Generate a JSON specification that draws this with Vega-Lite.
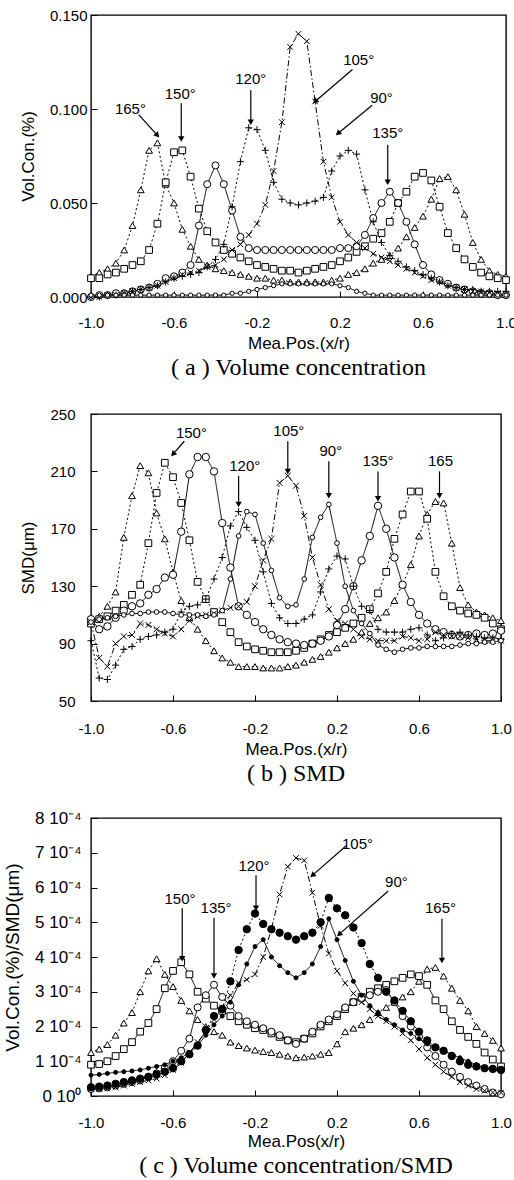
{
"$schema":"https://vega.github.io/schema/vega-lite/v6.json",
"background":"white",
"padding":{"left":2,"top":7,"right":4,"bottom":2},
"bounds":"flush",
"spacing":117,
"resolve":{"scale":{"shape":"independent","fill":"independent","size":"independent","strokeDash":"independent","angle":"independent"}},
"config":{
"view":{"stroke":"black","strokeWidth":1.4},
"axis":{"grid":false,"domain":false,"ticks":true,"tickColor":"black","tickSize":-6,"tickWidth":1,"labelFont":"Liberation Sans","titleFont":"Liberation Sans","labelFontSize":15,"titleFontSize":17,"titleFontWeight":"normal","labelColor":"black","titleColor":"black","labelFlush":false,"labelOverlap":false},
"title":{"font":"Liberation Serif","fontSize":24,"fontWeight":"normal","color":"black","orient":"bottom","anchor":"middle","frame":"group","offset":5}
},
"datasets":{
"a":[
{"s":"165","x":-1,"y":0.011},{"s":"165","x":-0.96,"y":0.013},{"s":"165","x":-0.92,"y":0.015},{"s":"165","x":-0.88,"y":0.018},{"s":"165","x":-0.84,"y":0.025},{"s":"165","x":-0.8,"y":0.038},{"s":"165","x":-0.76,"y":0.057},{"s":"165","x":-0.72,"y":0.078},{"s":"165","x":-0.68,"y":0.082},{"s":"165","x":-0.64,"y":0.06},{"s":"165","x":-0.6,"y":0.05},{"s":"165","x":-0.56,"y":0.036},{"s":"165","x":-0.52,"y":0.027},{"s":"165","x":-0.48,"y":0.02},{"s":"165","x":-0.44,"y":0.017},{"s":"165","x":-0.4,"y":0.015},{"s":"165","x":-0.36,"y":0.014},{"s":"165","x":-0.32,"y":0.013},{"s":"165","x":-0.28,"y":0.012},{"s":"165","x":-0.24,"y":0.011},{"s":"165","x":-0.2,"y":0.01},{"s":"165","x":-0.16,"y":0.01},{"s":"165","x":-0.12,"y":0.009},{"s":"165","x":-0.08,"y":0.009},{"s":"165","x":-0.04,"y":0.008},{"s":"165","x":0,"y":0.008},{"s":"165","x":0.04,"y":0.008},{"s":"165","x":0.08,"y":0.008},{"s":"165","x":0.12,"y":0.008},{"s":"165","x":0.16,"y":0.009},{"s":"165","x":0.2,"y":0.01},{"s":"165","x":0.24,"y":0.012},{"s":"165","x":0.28,"y":0.013},{"s":"165","x":0.32,"y":0.015},{"s":"165","x":0.36,"y":0.018},{"s":"165","x":0.4,"y":0.02},{"s":"165","x":0.44,"y":0.022},{"s":"165","x":0.48,"y":0.026},{"s":"165","x":0.52,"y":0.032},{"s":"165","x":0.56,"y":0.037},{"s":"165","x":0.6,"y":0.043},{"s":"165","x":0.64,"y":0.052},{"s":"165","x":0.68,"y":0.063},{"s":"165","x":0.72,"y":0.064},{"s":"165","x":0.76,"y":0.057},{"s":"165","x":0.8,"y":0.044},{"s":"165","x":0.84,"y":0.029},{"s":"165","x":0.88,"y":0.02},{"s":"165","x":0.92,"y":0.014},{"s":"165","x":0.96,"y":0.012},{"s":"165","x":1,"y":0.011},
{"s":"150","x":-1,"y":0.01},{"s":"150","x":-0.96,"y":0.01},{"s":"150","x":-0.92,"y":0.012},{"s":"150","x":-0.88,"y":0.013},{"s":"150","x":-0.84,"y":0.015},{"s":"150","x":-0.8,"y":0.017},{"s":"150","x":-0.76,"y":0.019},{"s":"150","x":-0.72,"y":0.025},{"s":"150","x":-0.68,"y":0.039},{"s":"150","x":-0.64,"y":0.061},{"s":"150","x":-0.6,"y":0.077},{"s":"150","x":-0.56,"y":0.078},{"s":"150","x":-0.52,"y":0.064},{"s":"150","x":-0.48,"y":0.047},{"s":"150","x":-0.44,"y":0.035},{"s":"150","x":-0.4,"y":0.029},{"s":"150","x":-0.36,"y":0.025},{"s":"150","x":-0.32,"y":0.023},{"s":"150","x":-0.28,"y":0.021},{"s":"150","x":-0.24,"y":0.019},{"s":"150","x":-0.2,"y":0.017},{"s":"150","x":-0.16,"y":0.016},{"s":"150","x":-0.12,"y":0.015},{"s":"150","x":-0.08,"y":0.014},{"s":"150","x":-0.04,"y":0.014},{"s":"150","x":0,"y":0.013},{"s":"150","x":0.04,"y":0.014},{"s":"150","x":0.08,"y":0.015},{"s":"150","x":0.12,"y":0.016},{"s":"150","x":0.16,"y":0.017},{"s":"150","x":0.2,"y":0.019},{"s":"150","x":0.24,"y":0.021},{"s":"150","x":0.28,"y":0.024},{"s":"150","x":0.32,"y":0.027},{"s":"150","x":0.36,"y":0.031},{"s":"150","x":0.4,"y":0.034},{"s":"150","x":0.44,"y":0.04},{"s":"150","x":0.48,"y":0.05},{"s":"150","x":0.52,"y":0.056},{"s":"150","x":0.56,"y":0.064},{"s":"150","x":0.6,"y":0.066},{"s":"150","x":0.64,"y":0.062},{"s":"150","x":0.68,"y":0.048},{"s":"150","x":0.72,"y":0.034},{"s":"150","x":0.76,"y":0.026},{"s":"150","x":0.8,"y":0.02},{"s":"150","x":0.84,"y":0.016},{"s":"150","x":0.88,"y":0.013},{"s":"150","x":0.92,"y":0.011},{"s":"150","x":0.96,"y":0.01},{"s":"150","x":1,"y":0.009},
{"s":"135","x":-1,"y":0},{"s":"135","x":-0.96,"y":0.001},{"s":"135","x":-0.92,"y":0.001},{"s":"135","x":-0.88,"y":0.002},{"s":"135","x":-0.84,"y":0.002},{"s":"135","x":-0.8,"y":0.003},{"s":"135","x":-0.76,"y":0.004},{"s":"135","x":-0.72,"y":0.005},{"s":"135","x":-0.68,"y":0.007},{"s":"135","x":-0.64,"y":0.01},{"s":"135","x":-0.6,"y":0.011},{"s":"135","x":-0.56,"y":0.013},{"s":"135","x":-0.52,"y":0.017},{"s":"135","x":-0.48,"y":0.038},{"s":"135","x":-0.44,"y":0.06},{"s":"135","x":-0.4,"y":0.07},{"s":"135","x":-0.36,"y":0.06},{"s":"135","x":-0.32,"y":0.046},{"s":"135","x":-0.28,"y":0.032},{"s":"135","x":-0.24,"y":0.026},{"s":"135","x":-0.2,"y":0.025},{"s":"135","x":-0.16,"y":0.025},{"s":"135","x":-0.12,"y":0.025},{"s":"135","x":-0.08,"y":0.025},{"s":"135","x":-0.04,"y":0.025},{"s":"135","x":0,"y":0.025},{"s":"135","x":0.04,"y":0.025},{"s":"135","x":0.08,"y":0.025},{"s":"135","x":0.12,"y":0.025},{"s":"135","x":0.16,"y":0.025},{"s":"135","x":0.2,"y":0.026},{"s":"135","x":0.24,"y":0.026},{"s":"135","x":0.28,"y":0.027},{"s":"135","x":0.32,"y":0.033},{"s":"135","x":0.36,"y":0.042},{"s":"135","x":0.4,"y":0.05},{"s":"135","x":0.44,"y":0.056},{"s":"135","x":0.48,"y":0.05},{"s":"135","x":0.52,"y":0.04},{"s":"135","x":0.56,"y":0.028},{"s":"135","x":0.6,"y":0.017},{"s":"135","x":0.64,"y":0.012},{"s":"135","x":0.68,"y":0.009},{"s":"135","x":0.72,"y":0.007},{"s":"135","x":0.76,"y":0.005},{"s":"135","x":0.8,"y":0.004},{"s":"135","x":0.84,"y":0.003},{"s":"135","x":0.88,"y":0.002},{"s":"135","x":0.92,"y":0.002},{"s":"135","x":0.96,"y":0.001},{"s":"135","x":1,"y":0.001},
{"s":"120","x":-1,"y":0},{"s":"120","x":-0.96,"y":0},{"s":"120","x":-0.92,"y":0.001},{"s":"120","x":-0.88,"y":0.001},{"s":"120","x":-0.84,"y":0.002},{"s":"120","x":-0.8,"y":0.003},{"s":"120","x":-0.76,"y":0.004},{"s":"120","x":-0.72,"y":0.005},{"s":"120","x":-0.68,"y":0.006},{"s":"120","x":-0.64,"y":0.008},{"s":"120","x":-0.6,"y":0.01},{"s":"120","x":-0.56,"y":0.011},{"s":"120","x":-0.52,"y":0.012},{"s":"120","x":-0.48,"y":0.013},{"s":"120","x":-0.44,"y":0.016},{"s":"120","x":-0.4,"y":0.02},{"s":"120","x":-0.36,"y":0.028},{"s":"120","x":-0.32,"y":0.048},{"s":"120","x":-0.28,"y":0.072},{"s":"120","x":-0.24,"y":0.09},{"s":"120","x":-0.2,"y":0.089},{"s":"120","x":-0.16,"y":0.078},{"s":"120","x":-0.12,"y":0.061},{"s":"120","x":-0.08,"y":0.052},{"s":"120","x":-0.04,"y":0.05},{"s":"120","x":0,"y":0.049},{"s":"120","x":0.04,"y":0.05},{"s":"120","x":0.08,"y":0.051},{"s":"120","x":0.12,"y":0.053},{"s":"120","x":0.16,"y":0.067},{"s":"120","x":0.2,"y":0.075},{"s":"120","x":0.24,"y":0.078},{"s":"120","x":0.28,"y":0.076},{"s":"120","x":0.32,"y":0.057},{"s":"120","x":0.36,"y":0.04},{"s":"120","x":0.4,"y":0.029},{"s":"120","x":0.44,"y":0.022},{"s":"120","x":0.48,"y":0.019},{"s":"120","x":0.52,"y":0.016},{"s":"120","x":0.56,"y":0.014},{"s":"120","x":0.6,"y":0.012},{"s":"120","x":0.64,"y":0.01},{"s":"120","x":0.68,"y":0.008},{"s":"120","x":0.72,"y":0.006},{"s":"120","x":0.76,"y":0.005},{"s":"120","x":0.8,"y":0.004},{"s":"120","x":0.84,"y":0.004},{"s":"120","x":0.88,"y":0.003},{"s":"120","x":0.92,"y":0.003},{"s":"120","x":0.96,"y":0.003},{"s":"120","x":1,"y":0.003},
{"s":"105","x":-1,"y":0},{"s":"105","x":-0.96,"y":0},{"s":"105","x":-0.92,"y":0.001},{"s":"105","x":-0.88,"y":0.001},{"s":"105","x":-0.84,"y":0.002},{"s":"105","x":-0.8,"y":0.003},{"s":"105","x":-0.76,"y":0.004},{"s":"105","x":-0.72,"y":0.005},{"s":"105","x":-0.68,"y":0.006},{"s":"105","x":-0.64,"y":0.008},{"s":"105","x":-0.6,"y":0.01},{"s":"105","x":-0.56,"y":0.012},{"s":"105","x":-0.52,"y":0.013},{"s":"105","x":-0.48,"y":0.014},{"s":"105","x":-0.44,"y":0.016},{"s":"105","x":-0.4,"y":0.017},{"s":"105","x":-0.36,"y":0.02},{"s":"105","x":-0.32,"y":0.025},{"s":"105","x":-0.28,"y":0.028},{"s":"105","x":-0.24,"y":0.033},{"s":"105","x":-0.2,"y":0.039},{"s":"105","x":-0.16,"y":0.049},{"s":"105","x":-0.12,"y":0.067},{"s":"105","x":-0.08,"y":0.093},{"s":"105","x":-0.04,"y":0.133},{"s":"105","x":0,"y":0.14},{"s":"105","x":0.04,"y":0.136},{"s":"105","x":0.08,"y":0.104},{"s":"105","x":0.12,"y":0.072},{"s":"105","x":0.16,"y":0.053},{"s":"105","x":0.2,"y":0.04},{"s":"105","x":0.24,"y":0.033},{"s":"105","x":0.28,"y":0.029},{"s":"105","x":0.32,"y":0.026},{"s":"105","x":0.36,"y":0.023},{"s":"105","x":0.4,"y":0.021},{"s":"105","x":0.44,"y":0.019},{"s":"105","x":0.48,"y":0.017},{"s":"105","x":0.52,"y":0.015},{"s":"105","x":0.56,"y":0.013},{"s":"105","x":0.6,"y":0.011},{"s":"105","x":0.64,"y":0.009},{"s":"105","x":0.68,"y":0.008},{"s":"105","x":0.72,"y":0.006},{"s":"105","x":0.76,"y":0.005},{"s":"105","x":0.8,"y":0.004},{"s":"105","x":0.84,"y":0.003},{"s":"105","x":0.88,"y":0.003},{"s":"105","x":0.92,"y":0.002},{"s":"105","x":0.96,"y":0.002},{"s":"105","x":1,"y":0.001},
{"s":"90","x":-1,"y":0.001},{"s":"90","x":-0.96,"y":0.001},{"s":"90","x":-0.92,"y":0.001},{"s":"90","x":-0.88,"y":0.001},{"s":"90","x":-0.84,"y":0.001},{"s":"90","x":-0.8,"y":0.001},{"s":"90","x":-0.76,"y":0.001},{"s":"90","x":-0.72,"y":0.001},{"s":"90","x":-0.68,"y":0.001},{"s":"90","x":-0.64,"y":0.001},{"s":"90","x":-0.6,"y":0.001},{"s":"90","x":-0.56,"y":0.001},{"s":"90","x":-0.52,"y":0.001},{"s":"90","x":-0.48,"y":0.001},{"s":"90","x":-0.44,"y":0.001},{"s":"90","x":-0.4,"y":0.001},{"s":"90","x":-0.36,"y":0.001},{"s":"90","x":-0.32,"y":0.002},{"s":"90","x":-0.28,"y":0.002},{"s":"90","x":-0.24,"y":0.003},{"s":"90","x":-0.2,"y":0.004},{"s":"90","x":-0.16,"y":0.005},{"s":"90","x":-0.12,"y":0.006},{"s":"90","x":-0.08,"y":0.007},{"s":"90","x":-0.04,"y":0.007},{"s":"90","x":0,"y":0.007},{"s":"90","x":0.04,"y":0.007},{"s":"90","x":0.08,"y":0.007},{"s":"90","x":0.12,"y":0.007},{"s":"90","x":0.16,"y":0.007},{"s":"90","x":0.2,"y":0.006},{"s":"90","x":0.24,"y":0.005},{"s":"90","x":0.28,"y":0.003},{"s":"90","x":0.32,"y":0.002},{"s":"90","x":0.36,"y":0.001},{"s":"90","x":0.4,"y":0.001},{"s":"90","x":0.44,"y":0.001},{"s":"90","x":0.48,"y":0.001},{"s":"90","x":0.52,"y":0.001},{"s":"90","x":0.56,"y":0.001},{"s":"90","x":0.6,"y":0.001},{"s":"90","x":0.64,"y":0.001},{"s":"90","x":0.68,"y":0.001},{"s":"90","x":0.72,"y":0.001},{"s":"90","x":0.76,"y":0.001},{"s":"90","x":0.8,"y":0.001},{"s":"90","x":0.84,"y":0.001},{"s":"90","x":0.88,"y":0.001},{"s":"90","x":0.92,"y":0.001},{"s":"90","x":0.96,"y":0.001},{"s":"90","x":1,"y":0.001}
],
"b":[
{"s":"165","x":-1,"y":105},{"s":"165","x":-0.96,"y":109},{"s":"165","x":-0.92,"y":116},{"s":"165","x":-0.88,"y":126},{"s":"165","x":-0.84,"y":164},{"s":"165","x":-0.8,"y":193},{"s":"165","x":-0.76,"y":214},{"s":"165","x":-0.72,"y":209},{"s":"165","x":-0.68,"y":181},{"s":"165","x":-0.64,"y":163},{"s":"165","x":-0.6,"y":140},{"s":"165","x":-0.56,"y":120},{"s":"165","x":-0.52,"y":108},{"s":"165","x":-0.48,"y":100},{"s":"165","x":-0.44,"y":92},{"s":"165","x":-0.4,"y":85},{"s":"165","x":-0.36,"y":80},{"s":"165","x":-0.32,"y":77},{"s":"165","x":-0.28,"y":74},{"s":"165","x":-0.24,"y":74},{"s":"165","x":-0.2,"y":74},{"s":"165","x":-0.16,"y":73},{"s":"165","x":-0.12,"y":73},{"s":"165","x":-0.08,"y":73},{"s":"165","x":-0.04,"y":74},{"s":"165","x":0,"y":75},{"s":"165","x":0.04,"y":77},{"s":"165","x":0.08,"y":79},{"s":"165","x":0.12,"y":81},{"s":"165","x":0.16,"y":84},{"s":"165","x":0.2,"y":87},{"s":"165","x":0.24,"y":90},{"s":"165","x":0.28,"y":93},{"s":"165","x":0.32,"y":98},{"s":"165","x":0.36,"y":104},{"s":"165","x":0.4,"y":108},{"s":"165","x":0.44,"y":112},{"s":"165","x":0.48,"y":120},{"s":"165","x":0.52,"y":131},{"s":"165","x":0.56,"y":145},{"s":"165","x":0.6,"y":165},{"s":"165","x":0.64,"y":180},{"s":"165","x":0.68,"y":189},{"s":"165","x":0.72,"y":188},{"s":"165","x":0.76,"y":160},{"s":"165","x":0.8,"y":129},{"s":"165","x":0.84,"y":117},{"s":"165","x":0.88,"y":112},{"s":"165","x":0.92,"y":110},{"s":"165","x":0.96,"y":108},{"s":"165","x":1,"y":106},
{"s":"150","x":-1,"y":104},{"s":"150","x":-0.96,"y":107},{"s":"150","x":-0.92,"y":109},{"s":"150","x":-0.88,"y":113},{"s":"150","x":-0.84,"y":117},{"s":"150","x":-0.8,"y":124},{"s":"150","x":-0.76,"y":131},{"s":"150","x":-0.72,"y":160},{"s":"150","x":-0.68,"y":195},{"s":"150","x":-0.64,"y":216},{"s":"150","x":-0.6,"y":206},{"s":"150","x":-0.56,"y":188},{"s":"150","x":-0.52,"y":162},{"s":"150","x":-0.48,"y":133},{"s":"150","x":-0.44,"y":121},{"s":"150","x":-0.4,"y":112},{"s":"150","x":-0.36,"y":105},{"s":"150","x":-0.32,"y":98},{"s":"150","x":-0.28,"y":91},{"s":"150","x":-0.24,"y":88},{"s":"150","x":-0.2,"y":86},{"s":"150","x":-0.16,"y":85},{"s":"150","x":-0.12,"y":84},{"s":"150","x":-0.08,"y":84},{"s":"150","x":-0.04,"y":84},{"s":"150","x":0,"y":85},{"s":"150","x":0.04,"y":87},{"s":"150","x":0.08,"y":90},{"s":"150","x":0.12,"y":93},{"s":"150","x":0.16,"y":96},{"s":"150","x":0.2,"y":98},{"s":"150","x":0.24,"y":101},{"s":"150","x":0.28,"y":104},{"s":"150","x":0.32,"y":108},{"s":"150","x":0.36,"y":114},{"s":"150","x":0.4,"y":125},{"s":"150","x":0.44,"y":140},{"s":"150","x":0.48,"y":163},{"s":"150","x":0.52,"y":180},{"s":"150","x":0.56,"y":196},{"s":"150","x":0.6,"y":196},{"s":"150","x":0.64,"y":177},{"s":"150","x":0.68,"y":140},{"s":"150","x":0.72,"y":123},{"s":"150","x":0.76,"y":116},{"s":"150","x":0.8,"y":113},{"s":"150","x":0.84,"y":111},{"s":"150","x":0.88,"y":110},{"s":"150","x":0.92,"y":108},{"s":"150","x":0.96,"y":104},{"s":"150","x":1,"y":100},
{"s":"135","x":-1,"y":107},{"s":"135","x":-0.96,"y":100},{"s":"135","x":-0.92,"y":102},{"s":"135","x":-0.88,"y":108},{"s":"135","x":-0.84,"y":113},{"s":"135","x":-0.8,"y":116},{"s":"135","x":-0.76,"y":118},{"s":"135","x":-0.72,"y":124},{"s":"135","x":-0.68,"y":128},{"s":"135","x":-0.64,"y":136},{"s":"135","x":-0.6,"y":138},{"s":"135","x":-0.56,"y":168},{"s":"135","x":-0.52,"y":208},{"s":"135","x":-0.48,"y":220},{"s":"135","x":-0.44,"y":220},{"s":"135","x":-0.4,"y":210},{"s":"135","x":-0.36,"y":174},{"s":"135","x":-0.32,"y":143},{"s":"135","x":-0.28,"y":116},{"s":"135","x":-0.24,"y":110},{"s":"135","x":-0.2,"y":105},{"s":"135","x":-0.16,"y":100},{"s":"135","x":-0.12,"y":96},{"s":"135","x":-0.08,"y":93},{"s":"135","x":-0.04,"y":91},{"s":"135","x":0,"y":90},{"s":"135","x":0.04,"y":89},{"s":"135","x":0.08,"y":90},{"s":"135","x":0.12,"y":92},{"s":"135","x":0.16,"y":95},{"s":"135","x":0.2,"y":103},{"s":"135","x":0.24,"y":114},{"s":"135","x":0.28,"y":130},{"s":"135","x":0.32,"y":148},{"s":"135","x":0.36,"y":165},{"s":"135","x":0.4,"y":186},{"s":"135","x":0.44,"y":170},{"s":"135","x":0.48,"y":150},{"s":"135","x":0.52,"y":131},{"s":"135","x":0.56,"y":119},{"s":"135","x":0.6,"y":110},{"s":"135","x":0.64,"y":104},{"s":"135","x":0.68,"y":100},{"s":"135","x":0.72,"y":98},{"s":"135","x":0.76,"y":96},{"s":"135","x":0.8,"y":95},{"s":"135","x":0.84,"y":96},{"s":"135","x":0.88,"y":97},{"s":"135","x":0.92,"y":96},{"s":"135","x":0.96,"y":97},{"s":"135","x":1,"y":99},
{"s":"120","x":-1,"y":92},{"s":"120","x":-0.96,"y":66},{"s":"120","x":-0.92,"y":65},{"s":"120","x":-0.88,"y":75},{"s":"120","x":-0.84,"y":86},{"s":"120","x":-0.8,"y":88},{"s":"120","x":-0.76,"y":93},{"s":"120","x":-0.72,"y":95},{"s":"120","x":-0.68,"y":96},{"s":"120","x":-0.64,"y":98},{"s":"120","x":-0.6,"y":100},{"s":"120","x":-0.56,"y":112},{"s":"120","x":-0.52,"y":116},{"s":"120","x":-0.48,"y":117},{"s":"120","x":-0.44,"y":121},{"s":"120","x":-0.4,"y":135},{"s":"120","x":-0.36,"y":150},{"s":"120","x":-0.32,"y":172},{"s":"120","x":-0.28,"y":182},{"s":"120","x":-0.24,"y":171},{"s":"120","x":-0.2,"y":162},{"s":"120","x":-0.16,"y":140},{"s":"120","x":-0.12,"y":118},{"s":"120","x":-0.08,"y":108},{"s":"120","x":-0.04,"y":104},{"s":"120","x":0,"y":104},{"s":"120","x":0.04,"y":107},{"s":"120","x":0.08,"y":110},{"s":"120","x":0.12,"y":126},{"s":"120","x":0.16,"y":142},{"s":"120","x":0.2,"y":151},{"s":"120","x":0.24,"y":149},{"s":"120","x":0.28,"y":130},{"s":"120","x":0.32,"y":116},{"s":"120","x":0.36,"y":113},{"s":"120","x":0.4,"y":100},{"s":"120","x":0.44,"y":98},{"s":"120","x":0.48,"y":98},{"s":"120","x":0.52,"y":98},{"s":"120","x":0.56,"y":100},{"s":"120","x":0.6,"y":101},{"s":"120","x":0.64,"y":96},{"s":"120","x":0.68,"y":92},{"s":"120","x":0.72,"y":94},{"s":"120","x":0.76,"y":97},{"s":"120","x":0.8,"y":98},{"s":"120","x":0.84,"y":96},{"s":"120","x":0.88,"y":95},{"s":"120","x":0.92,"y":94},{"s":"120","x":0.96,"y":94},{"s":"120","x":1,"y":93},
{"s":"105","x":-1,"y":105},{"s":"105","x":-0.96,"y":80},{"s":"105","x":-0.92,"y":74},{"s":"105","x":-0.88,"y":90},{"s":"105","x":-0.84,"y":95},{"s":"105","x":-0.8,"y":96},{"s":"105","x":-0.76,"y":104},{"s":"105","x":-0.72,"y":103},{"s":"105","x":-0.68,"y":100},{"s":"105","x":-0.64,"y":97},{"s":"105","x":-0.6,"y":95},{"s":"105","x":-0.56,"y":100},{"s":"105","x":-0.52,"y":106},{"s":"105","x":-0.48,"y":109},{"s":"105","x":-0.44,"y":110},{"s":"105","x":-0.4,"y":111},{"s":"105","x":-0.36,"y":113},{"s":"105","x":-0.32,"y":115},{"s":"105","x":-0.28,"y":116},{"s":"105","x":-0.24,"y":119},{"s":"105","x":-0.2,"y":130},{"s":"105","x":-0.16,"y":148},{"s":"105","x":-0.12,"y":163},{"s":"105","x":-0.08,"y":202},{"s":"105","x":-0.04,"y":207},{"s":"105","x":0,"y":200},{"s":"105","x":0.04,"y":179},{"s":"105","x":0.08,"y":150},{"s":"105","x":0.12,"y":131},{"s":"105","x":0.16,"y":114},{"s":"105","x":0.2,"y":106},{"s":"105","x":0.24,"y":104},{"s":"105","x":0.28,"y":100},{"s":"105","x":0.32,"y":95},{"s":"105","x":0.36,"y":93},{"s":"105","x":0.4,"y":92},{"s":"105","x":0.44,"y":92},{"s":"105","x":0.48,"y":92},{"s":"105","x":0.52,"y":95},{"s":"105","x":0.56,"y":94},{"s":"105","x":0.6,"y":92},{"s":"105","x":0.64,"y":93},{"s":"105","x":0.68,"y":98},{"s":"105","x":0.72,"y":96},{"s":"105","x":0.76,"y":95},{"s":"105","x":0.8,"y":95},{"s":"105","x":0.84,"y":94},{"s":"105","x":0.88,"y":93},{"s":"105","x":0.92,"y":92},{"s":"105","x":0.96,"y":92},{"s":"105","x":1,"y":92},
{"s":"90","x":-1,"y":105},{"s":"90","x":-0.96,"y":107},{"s":"90","x":-0.92,"y":108},{"s":"90","x":-0.88,"y":109},{"s":"90","x":-0.84,"y":110},{"s":"90","x":-0.8,"y":111},{"s":"90","x":-0.76,"y":111},{"s":"90","x":-0.72,"y":112},{"s":"90","x":-0.68,"y":112},{"s":"90","x":-0.64,"y":112},{"s":"90","x":-0.6,"y":111},{"s":"90","x":-0.56,"y":110},{"s":"90","x":-0.52,"y":110},{"s":"90","x":-0.48,"y":110},{"s":"90","x":-0.44,"y":109},{"s":"90","x":-0.4,"y":110},{"s":"90","x":-0.36,"y":113},{"s":"90","x":-0.32,"y":135},{"s":"90","x":-0.28,"y":165},{"s":"90","x":-0.24,"y":182},{"s":"90","x":-0.2,"y":180},{"s":"90","x":-0.16,"y":160},{"s":"90","x":-0.12,"y":141},{"s":"90","x":-0.08,"y":122},{"s":"90","x":-0.04,"y":116},{"s":"90","x":0,"y":117},{"s":"90","x":0.04,"y":135},{"s":"90","x":0.08,"y":164},{"s":"90","x":0.12,"y":178},{"s":"90","x":0.16,"y":187},{"s":"90","x":0.2,"y":160},{"s":"90","x":0.24,"y":130},{"s":"90","x":0.28,"y":113},{"s":"90","x":0.32,"y":104},{"s":"90","x":0.36,"y":97},{"s":"90","x":0.4,"y":89},{"s":"90","x":0.44,"y":86},{"s":"90","x":0.48,"y":84},{"s":"90","x":0.52,"y":86},{"s":"90","x":0.56,"y":87},{"s":"90","x":0.6,"y":87},{"s":"90","x":0.64,"y":88},{"s":"90","x":0.68,"y":88},{"s":"90","x":0.72,"y":88},{"s":"90","x":0.76,"y":88},{"s":"90","x":0.8,"y":89},{"s":"90","x":0.84,"y":90},{"s":"90","x":0.88,"y":90},{"s":"90","x":0.92,"y":91},{"s":"90","x":0.96,"y":91},{"s":"90","x":1,"y":92}
],
"c":[
{"s":"165","x":-1,"y":1.25},{"s":"165","x":-0.96,"y":1.35},{"s":"165","x":-0.92,"y":1.48},{"s":"165","x":-0.88,"y":1.75},{"s":"165","x":-0.84,"y":2.1},{"s":"165","x":-0.8,"y":2.4},{"s":"165","x":-0.76,"y":3},{"s":"165","x":-0.72,"y":3.6},{"s":"165","x":-0.68,"y":3.95},{"s":"165","x":-0.64,"y":3.5},{"s":"165","x":-0.6,"y":3.15},{"s":"165","x":-0.56,"y":2.75},{"s":"165","x":-0.52,"y":2.45},{"s":"165","x":-0.48,"y":2.2},{"s":"165","x":-0.44,"y":2},{"s":"165","x":-0.4,"y":1.85},{"s":"165","x":-0.36,"y":1.75},{"s":"165","x":-0.32,"y":1.55},{"s":"165","x":-0.28,"y":1.45},{"s":"165","x":-0.24,"y":1.38},{"s":"165","x":-0.2,"y":1.32},{"s":"165","x":-0.16,"y":1.28},{"s":"165","x":-0.12,"y":1.25},{"s":"165","x":-0.08,"y":1.2},{"s":"165","x":-0.04,"y":1.15},{"s":"165","x":0,"y":1.1},{"s":"165","x":0.04,"y":1.12},{"s":"165","x":0.08,"y":1.15},{"s":"165","x":0.12,"y":1.2},{"s":"165","x":0.16,"y":1.25},{"s":"165","x":0.2,"y":1.5},{"s":"165","x":0.24,"y":1.85},{"s":"165","x":0.28,"y":1.95},{"s":"165","x":0.32,"y":2.05},{"s":"165","x":0.36,"y":2.2},{"s":"165","x":0.4,"y":2.4},{"s":"165","x":0.44,"y":2.55},{"s":"165","x":0.48,"y":2.7},{"s":"165","x":0.52,"y":2.85},{"s":"165","x":0.56,"y":3},{"s":"165","x":0.6,"y":3.3},{"s":"165","x":0.64,"y":3.65},{"s":"165","x":0.68,"y":3.7},{"s":"165","x":0.72,"y":3.45},{"s":"165","x":0.76,"y":3.1},{"s":"165","x":0.8,"y":2.75},{"s":"165","x":0.84,"y":2.45},{"s":"165","x":0.88,"y":2},{"s":"165","x":0.92,"y":1.8},{"s":"165","x":0.96,"y":1.6},{"s":"165","x":1,"y":1.38},
{"s":"150","x":-1,"y":0.9},{"s":"150","x":-0.96,"y":0.92},{"s":"150","x":-0.92,"y":1},{"s":"150","x":-0.88,"y":1.15},{"s":"150","x":-0.84,"y":1.35},{"s":"150","x":-0.8,"y":1.55},{"s":"150","x":-0.76,"y":1.85},{"s":"150","x":-0.72,"y":2.1},{"s":"150","x":-0.68,"y":2.5},{"s":"150","x":-0.64,"y":3.1},{"s":"150","x":-0.6,"y":3.6},{"s":"150","x":-0.56,"y":3.85},{"s":"150","x":-0.52,"y":3.5},{"s":"150","x":-0.48,"y":3},{"s":"150","x":-0.44,"y":2.8},{"s":"150","x":-0.4,"y":2.6},{"s":"150","x":-0.36,"y":2.45},{"s":"150","x":-0.32,"y":2.3},{"s":"150","x":-0.28,"y":2.15},{"s":"150","x":-0.24,"y":2.05},{"s":"150","x":-0.2,"y":1.95},{"s":"150","x":-0.16,"y":1.9},{"s":"150","x":-0.12,"y":1.8},{"s":"150","x":-0.08,"y":1.7},{"s":"150","x":-0.04,"y":1.6},{"s":"150","x":0,"y":1.55},{"s":"150","x":0.04,"y":1.65},{"s":"150","x":0.08,"y":1.8},{"s":"150","x":0.12,"y":2},{"s":"150","x":0.16,"y":2.15},{"s":"150","x":0.2,"y":2.3},{"s":"150","x":0.24,"y":2.5},{"s":"150","x":0.28,"y":2.7},{"s":"150","x":0.32,"y":2.85},{"s":"150","x":0.36,"y":3},{"s":"150","x":0.4,"y":3.1},{"s":"150","x":0.44,"y":3.2},{"s":"150","x":0.48,"y":3.3},{"s":"150","x":0.52,"y":3.4},{"s":"150","x":0.56,"y":3.5},{"s":"150","x":0.6,"y":3.45},{"s":"150","x":0.64,"y":3.2},{"s":"150","x":0.68,"y":2.75},{"s":"150","x":0.72,"y":2.5},{"s":"150","x":0.76,"y":2.15},{"s":"150","x":0.8,"y":1.9},{"s":"150","x":0.84,"y":1.7},{"s":"150","x":0.88,"y":1.5},{"s":"150","x":0.92,"y":1.25},{"s":"150","x":0.96,"y":1.05},{"s":"150","x":1,"y":0.85},
{"s":"135","x":-1,"y":0.2},{"s":"135","x":-0.96,"y":0.22},{"s":"135","x":-0.92,"y":0.25},{"s":"135","x":-0.88,"y":0.3},{"s":"135","x":-0.84,"y":0.35},{"s":"135","x":-0.8,"y":0.4},{"s":"135","x":-0.76,"y":0.45},{"s":"135","x":-0.72,"y":0.55},{"s":"135","x":-0.68,"y":0.65},{"s":"135","x":-0.64,"y":0.8},{"s":"135","x":-0.6,"y":1},{"s":"135","x":-0.56,"y":1.3},{"s":"135","x":-0.52,"y":1.65},{"s":"135","x":-0.48,"y":2.55},{"s":"135","x":-0.44,"y":2.9},{"s":"135","x":-0.4,"y":3.2},{"s":"135","x":-0.36,"y":2.85},{"s":"135","x":-0.32,"y":2.6},{"s":"135","x":-0.28,"y":2.3},{"s":"135","x":-0.24,"y":2.15},{"s":"135","x":-0.2,"y":2.05},{"s":"135","x":-0.16,"y":1.95},{"s":"135","x":-0.12,"y":1.85},{"s":"135","x":-0.08,"y":1.75},{"s":"135","x":-0.04,"y":1.6},{"s":"135","x":0,"y":1.5},{"s":"135","x":0.04,"y":1.65},{"s":"135","x":0.08,"y":1.85},{"s":"135","x":0.12,"y":2.05},{"s":"135","x":0.16,"y":2.2},{"s":"135","x":0.2,"y":2.35},{"s":"135","x":0.24,"y":2.55},{"s":"135","x":0.28,"y":2.7},{"s":"135","x":0.32,"y":2.8},{"s":"135","x":0.36,"y":2.9},{"s":"135","x":0.4,"y":3},{"s":"135","x":0.44,"y":3.05},{"s":"135","x":0.48,"y":2.7},{"s":"135","x":0.52,"y":2.3},{"s":"135","x":0.56,"y":2},{"s":"135","x":0.6,"y":1.7},{"s":"135","x":0.64,"y":1.4},{"s":"135","x":0.68,"y":1.15},{"s":"135","x":0.72,"y":0.9},{"s":"135","x":0.76,"y":0.7},{"s":"135","x":0.8,"y":0.55},{"s":"135","x":0.84,"y":0.4},{"s":"135","x":0.88,"y":0.3},{"s":"135","x":0.92,"y":0.2},{"s":"135","x":0.96,"y":0.1},{"s":"135","x":1,"y":0.05},
{"s":"120","x":-1,"y":0.25},{"s":"120","x":-0.96,"y":0.27},{"s":"120","x":-0.92,"y":0.3},{"s":"120","x":-0.88,"y":0.35},{"s":"120","x":-0.84,"y":0.4},{"s":"120","x":-0.8,"y":0.45},{"s":"120","x":-0.76,"y":0.5},{"s":"120","x":-0.72,"y":0.55},{"s":"120","x":-0.68,"y":0.62},{"s":"120","x":-0.64,"y":0.7},{"s":"120","x":-0.6,"y":0.8},{"s":"120","x":-0.56,"y":1},{"s":"120","x":-0.52,"y":1.2},{"s":"120","x":-0.48,"y":1.45},{"s":"120","x":-0.44,"y":1.9},{"s":"120","x":-0.4,"y":2.3},{"s":"120","x":-0.36,"y":2.5},{"s":"120","x":-0.32,"y":3.3},{"s":"120","x":-0.28,"y":4.2},{"s":"120","x":-0.24,"y":4.8},{"s":"120","x":-0.2,"y":5.25},{"s":"120","x":-0.16,"y":4.95},{"s":"120","x":-0.12,"y":4.8},{"s":"120","x":-0.08,"y":4.7},{"s":"120","x":-0.04,"y":4.6},{"s":"120","x":0,"y":4.5},{"s":"120","x":0.04,"y":4.6},{"s":"120","x":0.08,"y":4.7},{"s":"120","x":0.12,"y":5},{"s":"120","x":0.16,"y":5.7},{"s":"120","x":0.2,"y":5.4},{"s":"120","x":0.24,"y":5.2},{"s":"120","x":0.28,"y":4.85},{"s":"120","x":0.32,"y":4.4},{"s":"120","x":0.36,"y":3.8},{"s":"120","x":0.4,"y":3.4},{"s":"120","x":0.44,"y":3},{"s":"120","x":0.48,"y":2.75},{"s":"120","x":0.52,"y":2.45},{"s":"120","x":0.56,"y":2.15},{"s":"120","x":0.6,"y":1.85},{"s":"120","x":0.64,"y":1.6},{"s":"120","x":0.68,"y":1.4},{"s":"120","x":0.72,"y":1.3},{"s":"120","x":0.76,"y":1.15},{"s":"120","x":0.8,"y":1},{"s":"120","x":0.84,"y":0.9},{"s":"120","x":0.88,"y":0.85},{"s":"120","x":0.92,"y":0.8},{"s":"120","x":0.96,"y":0.78},{"s":"120","x":1,"y":0.75},
{"s":"105","x":-1,"y":0.2},{"s":"105","x":-0.96,"y":0.2},{"s":"105","x":-0.92,"y":0.22},{"s":"105","x":-0.88,"y":0.25},{"s":"105","x":-0.84,"y":0.3},{"s":"105","x":-0.8,"y":0.35},{"s":"105","x":-0.76,"y":0.4},{"s":"105","x":-0.72,"y":0.45},{"s":"105","x":-0.68,"y":0.5},{"s":"105","x":-0.64,"y":0.6},{"s":"105","x":-0.6,"y":0.75},{"s":"105","x":-0.56,"y":0.95},{"s":"105","x":-0.52,"y":1.25},{"s":"105","x":-0.48,"y":1.55},{"s":"105","x":-0.44,"y":1.85},{"s":"105","x":-0.4,"y":2.2},{"s":"105","x":-0.36,"y":2.55},{"s":"105","x":-0.32,"y":2.9},{"s":"105","x":-0.28,"y":3.25},{"s":"105","x":-0.24,"y":3.35},{"s":"105","x":-0.2,"y":3.5},{"s":"105","x":-0.16,"y":4},{"s":"105","x":-0.12,"y":4.8},{"s":"105","x":-0.08,"y":5.8},{"s":"105","x":-0.04,"y":6.6},{"s":"105","x":0,"y":6.85},{"s":"105","x":0.04,"y":6.78},{"s":"105","x":0.08,"y":5.85},{"s":"105","x":0.12,"y":4.9},{"s":"105","x":0.16,"y":4.1},{"s":"105","x":0.2,"y":3.6},{"s":"105","x":0.24,"y":3.25},{"s":"105","x":0.28,"y":2.95},{"s":"105","x":0.32,"y":2.7},{"s":"105","x":0.36,"y":2.5},{"s":"105","x":0.4,"y":2.3},{"s":"105","x":0.44,"y":2.15},{"s":"105","x":0.48,"y":2},{"s":"105","x":0.52,"y":1.8},{"s":"105","x":0.56,"y":1.6},{"s":"105","x":0.6,"y":1.35},{"s":"105","x":0.64,"y":1.1},{"s":"105","x":0.68,"y":0.9},{"s":"105","x":0.72,"y":0.7},{"s":"105","x":0.76,"y":0.55},{"s":"105","x":0.8,"y":0.4},{"s":"105","x":0.84,"y":0.3},{"s":"105","x":0.88,"y":0.2},{"s":"105","x":0.92,"y":0.15},{"s":"105","x":0.96,"y":0.1},{"s":"105","x":1,"y":0.1},
{"s":"90","x":-1,"y":0.6},{"s":"90","x":-0.96,"y":0.62},{"s":"90","x":-0.92,"y":0.65},{"s":"90","x":-0.88,"y":0.68},{"s":"90","x":-0.84,"y":0.7},{"s":"90","x":-0.8,"y":0.72},{"s":"90","x":-0.76,"y":0.75},{"s":"90","x":-0.72,"y":0.8},{"s":"90","x":-0.68,"y":0.85},{"s":"90","x":-0.64,"y":0.9},{"s":"90","x":-0.6,"y":1},{"s":"90","x":-0.56,"y":1.1},{"s":"90","x":-0.52,"y":1.25},{"s":"90","x":-0.48,"y":1.45},{"s":"90","x":-0.44,"y":1.75},{"s":"90","x":-0.4,"y":2.05},{"s":"90","x":-0.36,"y":2.3},{"s":"90","x":-0.32,"y":2.7},{"s":"90","x":-0.28,"y":3.2},{"s":"90","x":-0.24,"y":3.8},{"s":"90","x":-0.2,"y":4.3},{"s":"90","x":-0.16,"y":4.5},{"s":"90","x":-0.12,"y":4},{"s":"90","x":-0.08,"y":3.75},{"s":"90","x":-0.04,"y":3.55},{"s":"90","x":0,"y":3.4},{"s":"90","x":0.04,"y":3.55},{"s":"90","x":0.08,"y":3.8},{"s":"90","x":0.12,"y":4.3},{"s":"90","x":0.16,"y":5.1},{"s":"90","x":0.2,"y":4.5},{"s":"90","x":0.24,"y":3.9},{"s":"90","x":0.28,"y":3.3},{"s":"90","x":0.32,"y":2.9},{"s":"90","x":0.36,"y":2.6},{"s":"90","x":0.4,"y":2.4},{"s":"90","x":0.44,"y":2.2},{"s":"90","x":0.48,"y":2.05},{"s":"90","x":0.52,"y":1.9},{"s":"90","x":0.56,"y":1.8},{"s":"90","x":0.6,"y":1.65},{"s":"90","x":0.64,"y":1.5},{"s":"90","x":0.68,"y":1.4},{"s":"90","x":0.72,"y":1.3},{"s":"90","x":0.76,"y":1.2},{"s":"90","x":0.8,"y":1.1},{"s":"90","x":0.84,"y":1},{"s":"90","x":0.88,"y":0.9},{"s":"90","x":0.92,"y":0.8},{"s":"90","x":0.96,"y":0.75},{"s":"90","x":1,"y":0.7}
],
"taA":[{"label":"165°","x":-0.81,"y":0.1},{"label":"150°","x":-0.57,"y":0.108},{"label":"120°","x":-0.23,"y":0.116},{"label":"105°","x":0.29,"y":0.126},{"label":"90°","x":0.4,"y":0.106},{"label":"135°","x":0.43,"y":0.087}],
"aaA":[{"label":"165°","x":-0.68,"y":0.086,"x2":-0.77,"y2":0.097},{"label":"150°","x":-0.565,"y":0.084,"x2":-0.565,"y2":0.103},{"label":"120°","x":-0.23,"y":0.093,"x2":-0.23,"y2":0.11},{"label":"105°","x":0.08,"y":0.104,"x2":0.26,"y2":0.121},{"label":"90°","x":0.19,"y":0.087,"x2":0.355,"y2":0.102},{"label":"135°","x":0.43,"y":0.061,"x2":0.43,"y2":0.081}],
"taB":[{"label":"150°","x":-0.51,"y":237},{"label":"105°","x":-0.035,"y":238},{"label":"120°","x":-0.25,"y":214},{"label":"90°","x":0.17,"y":224},{"label":"135°","x":0.4,"y":217},{"label":"165","x":0.705,"y":217}],
"aaB":[{"label":"150°","x":-0.6,"y":222,"x2":-0.545,"y2":231},{"label":"105°","x":-0.04,"y":210,"x2":-0.04,"y2":231},{"label":"120°","x":-0.28,"y":187,"x2":-0.28,"y2":207},{"label":"90°","x":0.16,"y":193,"x2":0.16,"y2":217},{"label":"135°","x":0.4,"y":191,"x2":0.4,"y2":210},{"label":"165","x":0.7,"y":193,"x2":0.7,"y2":210}],
"taC":[{"label":"150°","x":-0.566,"y":5.67},{"label":"135°","x":-0.39,"y":5.4},{"label":"120°","x":-0.205,"y":6.62},{"label":"105°","x":0.3,"y":7.24},{"label":"90°","x":0.49,"y":6.16},{"label":"165°","x":0.705,"y":5.4}],
"aaC":[{"label":"150°","x":-0.555,"y":3.95,"x2":-0.555,"y2":5.4},{"label":"135°","x":-0.4,"y":3.45,"x2":-0.4,"y2":5.13},{"label":"120°","x":-0.195,"y":5.4,"x2":-0.195,"y2":6.35},{"label":"105°","x":0.08,"y":6.35,"x2":0.245,"y2":7.2},{"label":"90°","x":0.21,"y":4.65,"x2":0.45,"y2":5.9},{"label":"165°","x":0.712,"y":3.9,"x2":0.712,"y2":5.1}]
},
"vconcat":[
{
"width":415,"height":282,
"title":{"text":"( a ) Volume concentration"},
"encoding":{
"x":{"field":"x","type":"quantitative","scale":{"domain":[-1,1],"nice":false},"axis":{"title":"Mea.Pos.(x/r)","values":[-1,-0.6,-0.2,0.2,0.6,1],"labelExpr":"(datum.value < 0 ? '-' : '') + format(abs(datum.value), '.1f')","labelPadding":24,"titlePadding":5}},
"y":{"field":"y","type":"quantitative","scale":{"domain":[0,0.15],"nice":false,"zero":false},"axis":{"title":"Vol.Con.(%)","values":[0,0.05,0.1,0.15],"format":".3f","labelPadding":10,"titlePadding":12}}
},
"layer":[
{"data":{"name":"a"},"mark":{"type":"line","color":"black","strokeWidth":1},
"encoding":{"strokeDash":{"field":"s","type":"nominal","scale":{"domain":["165","150","135","120","105","90"],"range":[[2,2.5],[2,2.5],[1,0],[2,2.5],[6,2.5,1.5,2.5],[1,0]]},"legend":null}}},
{"data":{"name":"a"},"mark":{"type":"point","filled":true,"stroke":"black","strokeWidth":1,"opacity":1},
"encoding":{
"shape":{"field":"s","type":"nominal","scale":{"domain":["165","150","135","120","105","90"],"range":["triangle-up","square","circle","M-1,0L1,0M0,-1L0,1","M-0.8,-0.8L0.8,0.8M-0.8,0.8L0.8,-0.8","circle"]},"legend":null},
"fill":{"field":"s","type":"nominal","scale":{"domain":["165","150","135","120","105","90"],"range":["white","white","white","white","white","white"]},"legend":null},
"size":{"field":"s","type":"nominal","scale":{"type":"ordinal","domain":["165","150","135","120","105","90"],"range":[45,45,50,50,50,18]},"legend":null}}},
{"data":{"name":"aaA"},"mark":{"type":"rule","color":"black","strokeWidth":1.2},"encoding":{"x2":{"field":"x2"},"y2":{"field":"y2"}}},
{"data":{"name":"aaA"},"mark":{"type":"point","shape":"triangle-down","filled":true,"color":"black","size":40,"opacity":1},
"encoding":{"angle":{"field":"label","type":"nominal","scale":{"type":"ordinal","domain":["165°","150°","120°","105°","90°","135°"],"range":[-41,0,0,49,49,0]},"legend":null}}},
{"data":{"name":"taA"},"mark":{"type":"text","fontSize":15,"font":"Liberation Sans","color":"black"},"encoding":{"text":{"field":"label"}}}
]
},
{
"width":410,"height":287,
"title":{"text":"( b ) SMD"},
"encoding":{
"x":{"field":"x","type":"quantitative","scale":{"domain":[-1,1],"nice":false},"axis":{"title":"Mea.Pos.(x/r)","values":[-1,-0.6,-0.2,0.2,0.6,1],"labelExpr":"(datum.value < 0 ? '-' : '') + format(abs(datum.value), '.1f')","labelPadding":26,"titlePadding":5}},
"y":{"field":"y","type":"quantitative","scale":{"domain":[50,250],"nice":false,"zero":false},"axis":{"title":"SMD(μm)","values":[50,90,130,170,210,250],"labelPadding":22,"titlePadding":12}}
},
"layer":[
{"data":{"name":"b"},"mark":{"type":"line","color":"black","strokeWidth":1},
"encoding":{"strokeDash":{"field":"s","type":"nominal","scale":{"domain":["165","150","135","120","105","90"],"range":[[2,2.5],[2,2.5],[1,0],[2,2.5],[6,2.5,1.5,2.5],[1,0]]},"legend":null}}},
{"data":{"name":"b"},"mark":{"type":"point","filled":true,"stroke":"black","strokeWidth":1,"opacity":1},
"encoding":{
"shape":{"field":"s","type":"nominal","scale":{"domain":["165","150","135","120","105","90"],"range":["triangle-up","square","circle","M-1,0L1,0M0,-1L0,1","M-0.8,-0.8L0.8,0.8M-0.8,0.8L0.8,-0.8","circle"]},"legend":null},
"fill":{"field":"s","type":"nominal","scale":{"domain":["165","150","135","120","105","90"],"range":["white","white","white","white","white","white"]},"legend":null},
"size":{"field":"s","type":"nominal","scale":{"type":"ordinal","domain":["165","150","135","120","105","90"],"range":[45,45,55,50,55,22]},"legend":null}}},
{"data":{"name":"aaB"},"mark":{"type":"rule","color":"black","strokeWidth":1.2},"encoding":{"x2":{"field":"x2"},"y2":{"field":"y2"}}},
{"data":{"name":"aaB"},"mark":{"type":"point","shape":"triangle-down","filled":true,"color":"black","size":40,"opacity":1},
"encoding":{"angle":{"field":"label","type":"nominal","scale":{"type":"ordinal","domain":["150°","105°","120°","90°","135°","165"],"range":[43,0,0,0,0,0]},"legend":null}}},
{"data":{"name":"taB"},"mark":{"type":"text","fontSize":15,"font":"Liberation Sans","color":"black"},"encoding":{"text":{"field":"label"}}}
]
},
{
"width":410,"height":278,
"title":{"text":"( c ) Volume concentration/SMD"},
"encoding":{
"x":{"field":"x","type":"quantitative","scale":{"domain":[-1,1],"nice":false},"axis":{"title":"Mea.Pos(x/r)","values":[-1,-0.6,-0.2,0.2,0.6,1],"labelExpr":"(datum.value < 0 ? '-' : '') + format(abs(datum.value), '.1f')","labelPadding":25,"titlePadding":3}},
"y":{"field":"y","type":"quantitative","scale":{"domain":[0,8],"nice":false,"zero":false},"axis":{"title":"Vol.Con.(%)/SMD(μm)","values":[0,1,2,3,4,5,6,7,8],"labelExpr":"datum.value == 0 ? '0 10⁰' : datum.value + ' 10⁻⁴'","labelFontSize":17,"labelPadding":16,"titlePadding":12,"titleFontSize":19}}
},
"layer":[
{"data":{"name":"c"},"mark":{"type":"line","color":"black","strokeWidth":1},
"encoding":{"strokeDash":{"field":"s","type":"nominal","scale":{"domain":["165","150","135","120","105","90"],"range":[[2,2.5],[1,0],[1,0],[2,2.5],[6,2.5,1.5,2.5],[1,0]]},"legend":null}}},
{"data":{"name":"c"},"mark":{"type":"point","filled":true,"stroke":"black","strokeWidth":1,"opacity":1},
"encoding":{
"shape":{"field":"s","type":"nominal","scale":{"domain":["165","150","135","120","105","90"],"range":["triangle-up","square","circle","circle","M-0.8,-0.8L0.8,0.8M-0.8,0.8L0.8,-0.8","circle"]},"legend":null},
"fill":{"field":"s","type":"nominal","scale":{"domain":["165","150","135","120","105","90"],"range":["white","white","white","black","white","black"]},"legend":null},
"size":{"field":"s","type":"nominal","scale":{"type":"ordinal","domain":["165","150","135","120","105","90"],"range":[45,45,50,55,50,16]},"legend":null}}},
{"data":{"name":"aaC"},"mark":{"type":"rule","color":"black","strokeWidth":1.2},"encoding":{"x2":{"field":"x2"},"y2":{"field":"y2"}}},
{"data":{"name":"aaC"},"mark":{"type":"point","shape":"triangle-down","filled":true,"color":"black","size":40,"opacity":1},
"encoding":{"angle":{"field":"label","type":"nominal","scale":{"type":"ordinal","domain":["150°","135°","120°","105°","90°","165°"],"range":[0,0,0,49,48,0]},"legend":null}}},
{"data":{"name":"taC"},"mark":{"type":"text","fontSize":15,"font":"Liberation Sans","color":"black"},"encoding":{"text":{"field":"label"}}}
]
}
]
}
